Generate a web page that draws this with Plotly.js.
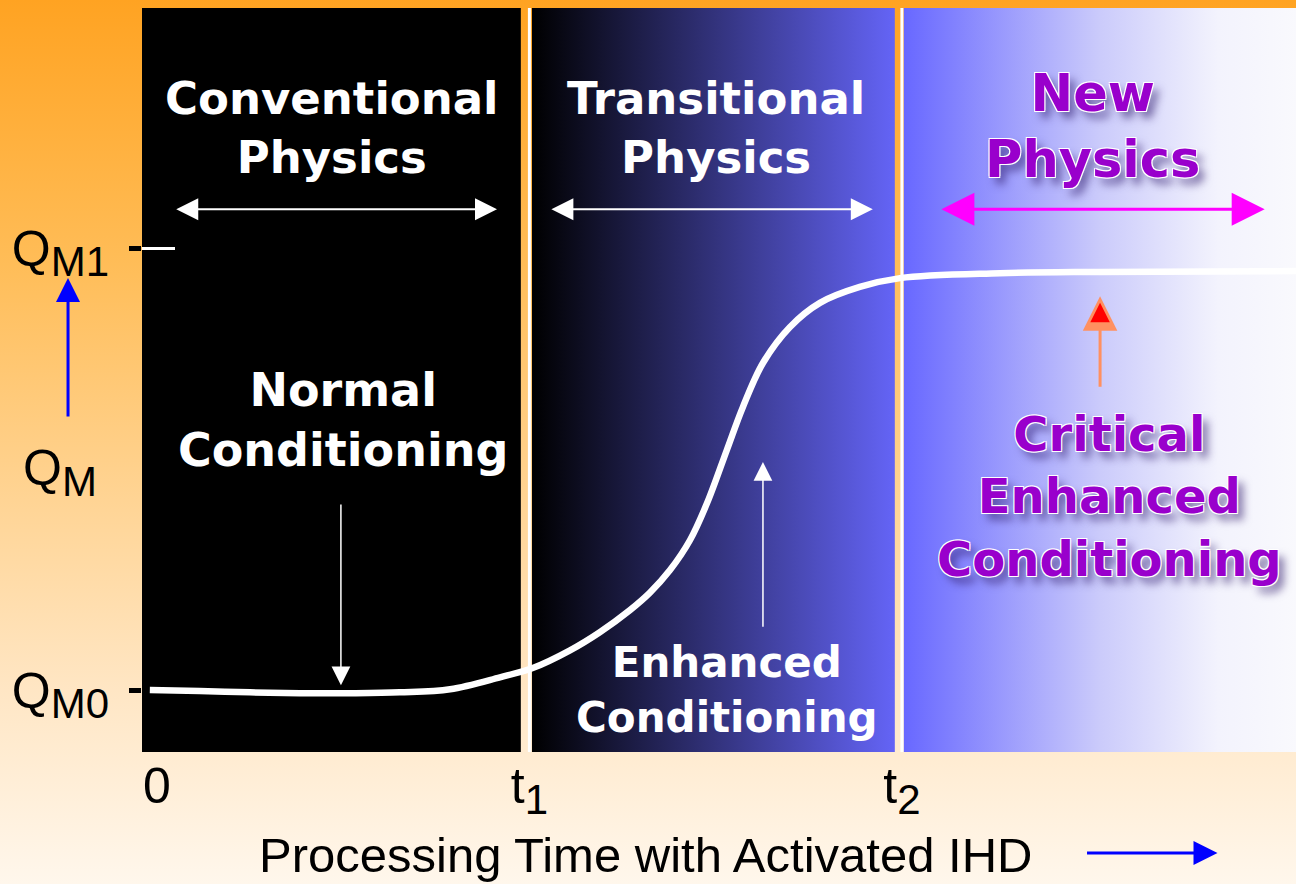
<!DOCTYPE html>
<html>
<head>
<meta charset="utf-8">
<script src="https://cdn.plot.ly/plotly-3.0.1.min.js"></script>
<style>
  html, body { margin: 0; padding: 0; }
  body {
    width: 1296px; height: 884px; overflow: hidden;
    background: linear-gradient(to bottom, #ffa322 0%, #ffbd58 30%, #ffd79c 60%, #ffe6c4 78%, #fff7ec 100%);
  }
  #plot { width: 1296px; height: 884px; }
</style>
</head>
<body>
<div id="plot"></div>
<script>
// Processing time (t1 = 1, t2 = 2) and the conditioning level Q_M (Q_M0 = 0, Q_M1 = 1)
let time = [-0.019, 0.115, 0.25, 0.384, 0.518, 0.652, 0.787, 0.921, 1.009, 1.109, 1.189, 1.27, 1.323, 1.377, 1.431, 1.477, 1.53, 1.573, 1.627, 1.699, 1.78, 1.887, 1.995, 2.263, 2.532, 3.058]
let qm = [0, -0.002, -0.005, -0.007, -0.007, -0.005, 0.002, 0.029, 0.05, 0.09, 0.131, 0.181, 0.22, 0.271, 0.339, 0.423, 0.543, 0.64, 0.74, 0.821, 0.876, 0.912, 0.932, 0.943, 0.946, 0.948]

// Tick labels
let xTickVals = [0, 1, 2]
let xTickText = ['0', 't<sub><span style="font-size:42px">1</span></sub>', 't<sub><span style="font-size:42px">2</span></sub>']
let yTickVals = [0, 1]
let yTickText = ['Q<sub><span style="font-size:42px">M0</span></sub>', 'Q<sub><span style="font-size:42px">M1</span></sub>']

// The three regimes and the boundaries between them
let regionStart = [-0.04, 1.007, 2.005]
let regionEnd = [0.977, 1.981, 3.06]
let regionScales = [
  [[0, '#000000'], [1, '#000000']],
  [[0, '#000000'], [1, '#6464f6']],
  [[0, '#6868ff'], [0.5, '#cbcbfb'], [0.8, '#f3f3fd'], [1, '#f9f9fd']]
]
let boundaries = [1, 2]

let xRange = [-0.04, 3.058]
let yRange = [-0.14, 1.543]

let data = []

// Background blocks for each regime
for (let i in regionStart) {
  data.push({
    x: [regionStart[i], regionEnd[i], regionEnd[i], regionStart[i], regionStart[i]],
    y: [yRange[0], yRange[0], yRange[1], yRange[1], yRange[0]],
    mode: 'lines',
    line: {width: 0},
    fill: 'toself',
    fillcolor: regionScales[i][0][1],
    fillgradient: {type: 'horizontal', colorscale: regionScales[i]},
    hoverinfo: 'skip',
    showlegend: false
  })
}

// White boundary lines at t1 and t2
for (let b of boundaries) {
  data.push({
    x: [b, b],
    y: yRange,
    yaxis: 'y2',
    mode: 'lines',
    line: {color: 'white', width: 3},
    hoverinfo: 'skip',
    showlegend: false
  })
}

// Conditioning curve
data.push({
  x: time,
  y: qm,
  mode: 'lines',
  line: {color: 'white', width: 6.5, shape: 'spline', smoothing: 1},
  showlegend: false
})

let whiteBold = {family: 'DejaVu Sans', size: 45, color: 'white', weight: 'bold'}
let purpleShadow = '-1px -1px 0 #fff, 1px -1px 0 #fff, -1px 1px 0 #fff, 1px 1px 0 #fff, 6px 7px 9px rgba(50,30,110,0.6)'

function label(x, y, text, font) {
  return {x: x, y: y, xref: 'x', yref: 'y', text: text, showarrow: false,
          xanchor: 'center', yanchor: 'middle', align: 'center', font: font}
}

function arrow(x0, y0, x1, y1, color, width, size, both) {
  return {x: x1, y: y1, ax: x0, ay: y0, xref: 'x', yref: 'y', axref: 'x', ayref: 'y',
          text: '', showarrow: true, arrowhead: 2, arrowsize: size, arrowwidth: width,
          arrowcolor: color, arrowside: both ? 'end+start' : 'end',
          startarrowhead: 2, startarrowsize: size, standoff: 0, startstandoff: 0}
}

let annotations = [
  label(0.47, 1.271, 'Conventional<br>Physics', whiteBold),
  label(1.501, 1.271, 'Transitional<br>Physics', whiteBold),
  label(2.513, 1.276, 'New<br>Physics',
        {family: 'DejaVu Sans', size: 51, color: '#9900cc', weight: 'bold', shadow: purpleShadow}),
  label(0.499, 0.611, 'Normal<br>Conditioning', Object.assign({}, whiteBold, {size: 46})),
  label(1.53, 0.0, 'Enhanced<br>Conditioning', Object.assign({}, whiteBold, {size: 42})),
  label(2.558, 0.437, 'Critical<br>Enhanced<br>Conditioning',
        {family: 'DejaVu Sans', size: 48, color: '#9900cc', weight: 'bold', shadow: purpleShadow}),

  arrow(0.048, 1.088, 0.913, 1.088, 'white', 2, 2.2, true),
  arrow(1.055, 1.088, 1.922, 1.088, 'white', 2, 2.2, true),
  arrow(2.102, 1.088, 2.974, 1.088, '#ff00ff', 3, 2.2, true),
  arrow(0.494, 0.423, 0.494, 0.011, 'white', 1.5, 2.5, false),
  arrow(1.627, 0.140, 1.627, 0.516, 'white', 1.5, 2.5, false),
  arrow(2.532, 0.683, 2.532, 0.891, '#ff9060', 3, 2.3, false),
  arrow(2.532, 0.84, 2.532, 0.876, '#ff0000', 1.5, 2.6, false),

  // Q_M axis label with its blue arrow
  {xref: 'paper', yref: 'paper', x: -0.071, y: 0.376, text: 'Q<sub><span style="font-size:42px">M</span></sub>',
   showarrow: false, xanchor: 'center', yanchor: 'middle',
   font: {family: 'Liberation Sans', size: 50, color: 'black'}},
  {xref: 'paper', yref: 'paper', x: -0.0641, y: 0.637, ax: 0, ay: 140, text: '',
   showarrow: true, arrowhead: 2, arrowsize: 1.6, arrowwidth: 3, arrowcolor: '#0000ff', standoff: 0},

  // time axis title with its blue arrow
  {xref: 'paper', yref: 'paper', x: 0.436, y: -0.138, text: 'Processing Time with Activated IHD',
   showarrow: false, xanchor: 'center', yanchor: 'middle',
   font: {family: 'Liberation Sans', size: 49, color: 'black'}},
  {xref: 'paper', yref: 'paper', x: 0.932, y: -0.1358, ax: -132, ay: 0, text: '',
   showarrow: true, arrowhead: 2, arrowsize: 1.6, arrowwidth: 3, arrowcolor: '#0000ff', standoff: 0}
]

let layout = {
  width: 1296,
  height: 884,
  margin: {l: 142, r: 0, t: 8, b: 132},
  paper_bgcolor: 'rgba(0,0,0,0)',
  plot_bgcolor: 'rgba(0,0,0,0)',
  showlegend: false,
  xaxis: {
    range: xRange, tickvals: xTickVals, ticktext: xTickText,
    showgrid: false, zeroline: false, showline: false, ticks: '',
    tickfont: {family: 'Liberation Sans', size: 50, color: 'black'}
  },
  yaxis: {
    range: yRange, tickvals: yTickVals, ticktext: yTickText,
    showgrid: false, zeroline: false, showline: false,
    ticks: 'outside', ticklen: 12, tickwidth: 5, tickcolor: 'black',
    ticklabelstandoff: 10,
    tickfont: {family: 'Liberation Sans', size: 50, color: 'black'}
  },
  yaxis2: {
    range: yRange, overlaying: 'y', side: 'left', tickvals: [1],
    showgrid: false, zeroline: false, showline: false, showticklabels: false,
    ticks: 'inside', ticklen: 33, tickwidth: 3, tickcolor: 'white'
  },
  annotations: annotations
}

Plotly.newPlot('plot', data, layout, {displayModeBar: false, staticPlot: true})
</script>
</body>
</html>
